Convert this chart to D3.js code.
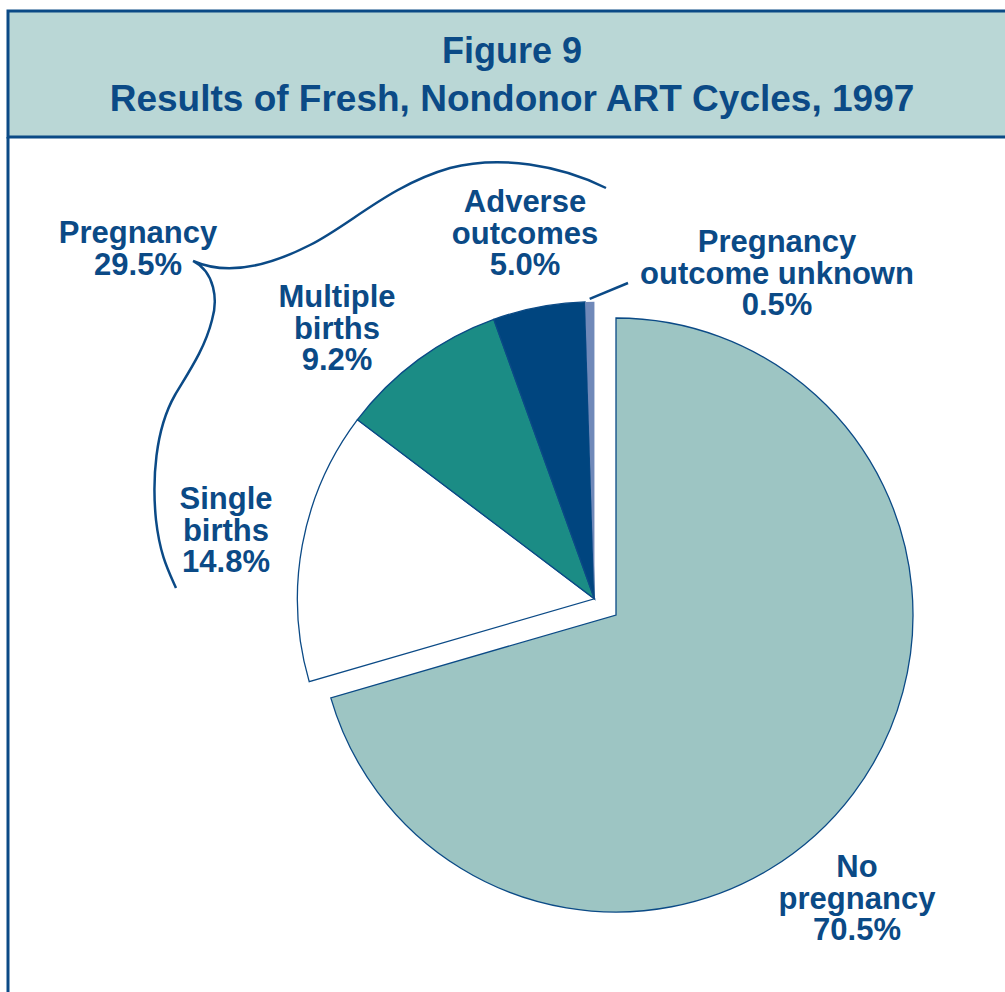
<!DOCTYPE html>
<html>
<head>
<meta charset="utf-8">
<script src="https://cdn.jsdelivr.net/npm/d3@7"></script>
<style>
  html, body { margin: 0; padding: 0; background: #fff; }
  svg { display: block; }
  text { font-family: "Liberation Sans", Arial, sans-serif; font-weight: bold; fill: #0b4a86; }
</style>
</head>
<body>
<svg id="chart" width="1005" height="992"></svg>
<script>
// Data
const categories = ["No pregnancy", "Single births", "Multiple births", "Adverse outcomes", "Pregnancy outcome unknown"];
const values = [70.5, 14.8, 9.2, 5.0, 0.5];
const pregnancyTotal = 29.5;
const titleLines = ["Figure 9", "Results of Fresh, Nondonor ART Cycles, 1997"];

const colors = {
  frame: "#0b4a86",
  header: "#bad7d6",
  text: "#0b4a86",
  slices: ["#9dc5c3", "#ffffff", "#1b8c85", "#00457f", "#7089b9"],
  stroke: "#0b4a86",
};

const svg = d3.select("#chart");

// Frame + header
svg.append("rect")
  .attr("x", 8).attr("y", 11)
  .attr("width", 1010).attr("height", 126)
  .attr("fill", colors.header)
  .attr("stroke", colors.frame)
  .attr("stroke-width", 3);
svg.append("line")
  .attr("x1", 8).attr("x2", 8)
  .attr("y1", 137).attr("y2", 992)
  .attr("stroke", colors.frame)
  .attr("stroke-width", 3);

svg.append("text").attr("x", 512).attr("y", 63)
  .attr("text-anchor", "middle").attr("font-size", 36)
  .text(titleLines[0]);
svg.append("text").attr("x", 512).attr("y", 111)
  .attr("text-anchor", "middle").attr("font-size", 37)
  .text(titleLines[1]);

// Pie
const cx = 616, cy = 615, radius = 297, explode = 27;
const pie = d3.pie().sort(null).value(d => d);
const arcs = pie(values);
const arc = d3.arc().innerRadius(0).outerRadius(radius);

// pregnancy outcomes are pulled out together
const pregStart = arcs[1].startAngle, pregEnd = arcs[arcs.length - 1].endAngle;
const mid = (pregStart + pregEnd) / 2;
const dx = explode * Math.sin(mid), dy = -explode * Math.cos(mid);

const pieG = svg.append("g").attr("transform", `translate(${cx},${cy})`);
pieG.append("path")
  .attr("d", arc(arcs[0]))
  .attr("fill", colors.slices[0])
  .attr("stroke", colors.stroke)
  .attr("stroke-width", 1.3);

const pregG = pieG.append("g").attr("transform", `translate(${dx},${dy})`);
pregG.selectAll("path")
  .data(arcs.slice(1))
  .join("path")
  .attr("d", arc)
  .attr("fill", (d, i) => colors.slices[i + 1])
  .attr("stroke", (d, i) => i === 3 ? "none" : colors.stroke)
  .attr("stroke-width", 1.3);

// leader for the tiny slice
const u = arcs[4];
const ua = (u.startAngle + u.endAngle) / 2;
const ux = cx + dx + (radius + 3) * Math.sin(ua), uy = cy + dy - (radius + 3) * Math.cos(ua);
svg.append("line")
  .attr("x1", ux).attr("y1", uy)
  .attr("x2", 628).attr("y2", 283)
  .attr("stroke", colors.stroke)
  .attr("stroke-width", 2.5);

// Brace around the pregnancy labels
svg.append("path")
  .attr("d", "M606,188 C560,165 500,155 450,168 C390,185 350,225 310,245 C265,268 225,275 193,261"
    + " M193,261 C215,272 218,300 212,320 C205,348 190,370 175,395 C155,430 152,480 156,520 C160,555 168,570 176,588")
  .attr("fill", "none")
  .attr("stroke", colors.stroke)
  .attr("stroke-width", 2.5);

// Labels
const labels = [
  { lines: ["Pregnancy", pregnancyTotal.toFixed(1) + "%"], x: 138, y: 243 },
  { lines: ["Adverse", "outcomes", values[3].toFixed(1) + "%"], x: 525, y: 212 },
  { lines: ["Multiple", "births", values[2].toFixed(1) + "%"], x: 337, y: 307 },
  { lines: ["Pregnancy", "outcome unknown", values[4].toFixed(1) + "%"], x: 777, y: 252 },
  { lines: ["Single", "births", values[1].toFixed(1) + "%"], x: 226, y: 509 },
  { lines: ["No", "pregnancy", values[0].toFixed(1) + "%"], x: 857, y: 877 },
];

labels.forEach(l => {
  const t = svg.append("text")
    .attr("text-anchor", "middle")
    .attr("font-size", 31);
  l.lines.forEach((s, i) => {
    t.append("tspan").attr("x", l.x).attr("y", l.y + i * 31.5).text(s);
  });
});
</script>
</body>
</html>
